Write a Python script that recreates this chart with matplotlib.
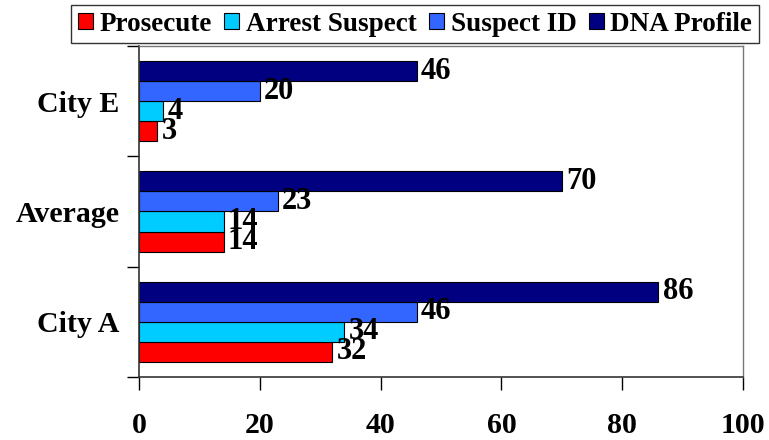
import matplotlib
matplotlib.use("Agg")
import matplotlib.pyplot as plt
import numpy as np

plt.rcParams['font.family'] = ['Liberation Serif', 'DejaVu Serif']
plt.rcParams['font.weight'] = 'bold'

# data (bottom to top)
cities = ["City A", "Average", "City E"]
series = ["Prosecute", "Arrest Suspect", "Suspect ID", "DNA Profile"]
prosecute = [32, 14, 3]
arrest = [34, 14, 4]
suspect_id = [46, 23, 20]
dna = [86, 70, 46]
colors = ["#FF0000", "#00CCFF", "#3366FF", "#000080"]

values = [prosecute, arrest, suspect_id, dna]

fig = plt.figure(figsize=(7.69, 4.40), dpi=100)
ax = fig.add_axes([0.1808, 0.1432, 0.7854, 0.7523])

y = np.arange(len(cities))
h = 0.182
for i, (name, vals) in enumerate(zip(series, values)):
    off = (i - 1.5) * h
    bars = ax.barh(y + off, vals, height=h, color=colors[i], edgecolor="black",
                   linewidth=0.8, label=name)
    ax.bar_label(bars, labels=[str(v) for v in vals], padding=3,
                 fontsize=22, fontweight="bold")

ax.set_xlim(0, 100)
ax.set_ylim(-0.5, 2.5)
ax.set_xticks(np.arange(0, 101, 20))
ax.tick_params(axis="x", direction="out", length=9, width=1, pad=16,
               labelsize=21.5)

# ticks between categories, labels at centers
ax.set_yticks([-0.5, 0.5, 1.5, 2.5])
ax.set_yticklabels([])
ax.set_yticks(y, minor=True)
ax.set_yticklabels(cities, minor=True)
ax.tick_params(axis="y", which="major", direction="out", length=9, width=1)
ax.tick_params(axis="y", which="minor", length=0, pad=14, labelsize=21.5)

for s in ["left", "bottom"]:
    ax.spines[s].set_color("#333333")
    ax.spines[s].set_linewidth(1.2)
for s in ["top", "right"]:
    ax.spines[s].set_color("#777777")
    ax.spines[s].set_linewidth(1.0)

leg = fig.legend(loc="upper right", bbox_to_anchor=(0.987, 0.989), ncol=4,
                 fontsize=19.5, frameon=True, fancybox=False, edgecolor="black",
                 handlelength=0.55, handleheight=0.55, handletextpad=0.25,
                 columnspacing=0.45, borderpad=0.25, borderaxespad=0)
leg.get_frame().set_linewidth(1.0)

fig.savefig("out.png", dpi=100)
